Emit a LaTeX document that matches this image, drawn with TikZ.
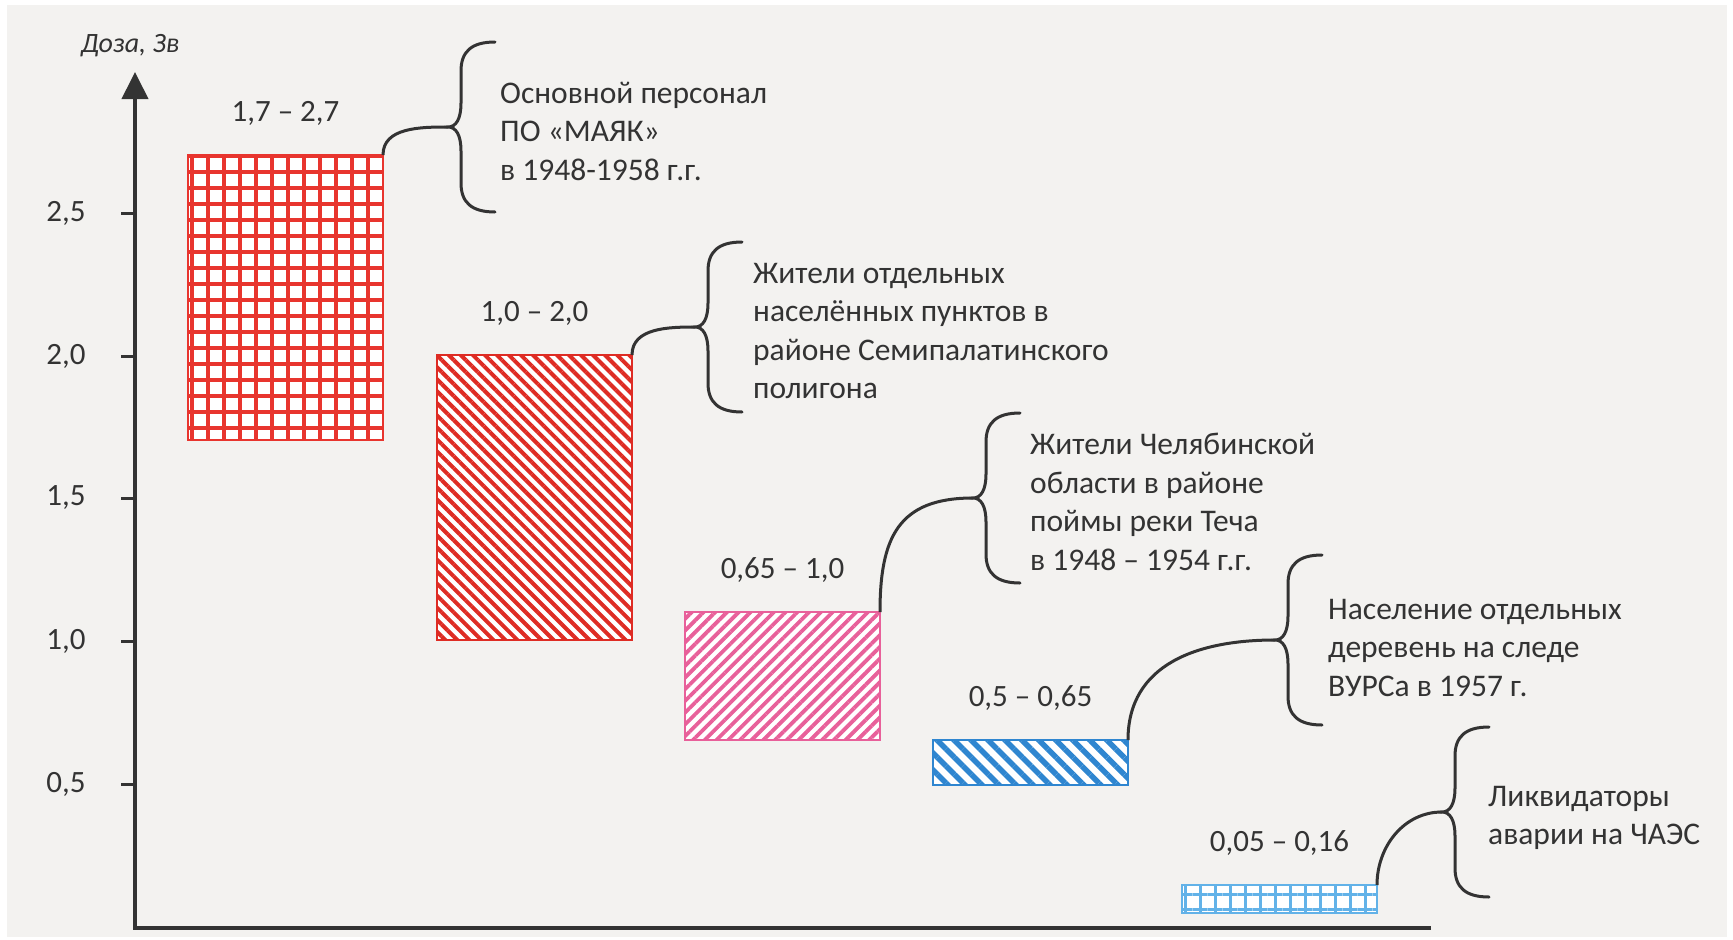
\documentclass[tikz,border=0pt]{standalone}
\usepackage{fontspec}
\setmainfont{Carlito}
\usetikzlibrary{patterns.meta,arrows.meta,positioning}
\definecolor{ink}{HTML}{333333}
\definecolor{paper}{HTML}{F3F2F0}
\definecolor{redA}{HTML}{E8352E}
\definecolor{redB}{HTML}{DE2C24}
\definecolor{pinkC}{HTML}{E8609A}
\definecolor{blueD}{HTML}{2F86D0}
\definecolor{blueE}{HTML}{62B2E8}

\begin{document}
\begin{tikzpicture}[x=1pt,y=-1pt]
\tikzstyle{bar}=[anchor=north west,inner sep=0pt,outer sep=0pt,minimum width=195pt,line width=1.5pt,preaction={fill=white}]
\tikzstyle{barA}=[bar,draw=redA,pattern={Hatch[angle=0,distance=16pt,line width=4.5pt]},pattern color=redA]
\tikzstyle{barB}=[bar,draw=redB,pattern={Lines[angle=-45,distance=8.5pt,line width=4pt]},pattern color=redB]
\tikzstyle{barC}=[bar,draw=pinkC,pattern={Lines[angle=45,distance=8.3pt,line width=3.8pt]},pattern color=pinkC]
\tikzstyle{barD}=[bar,draw=blueD,pattern={Lines[angle=-45,distance=12pt,line width=5.5pt]},pattern color=blueD]
\tikzstyle{barE}=[bar,draw=blueE,pattern={Hatch[angle=0,distance=15pt,line width=3pt]},pattern color=blueE]
\tikzstyle{vlabel}=[text=ink,inner sep=0pt,font=\fontsize{31}{36}\selectfont]
\tikzstyle{note}=[text=ink,inner sep=0pt,align=left,font=\fontsize{31.5}{38.5}\selectfont]
\tikzstyle{conn}=[draw=ink,line width=3pt]
\tikzstyle{axis}=[draw=ink,line width=4pt]
\tikzset{pics/curly/.style={code={
  \draw[conn,line cap=round] (47,-85) .. controls (23,-85) and (13,-75) .. (13,-56)
    -- (13,-24) .. controls (13,-8) and (8,0) .. (0,0)
    .. controls (8,0) and (13,8) .. (13,24) -- (13,56)
    .. controls (13,75) and (23,85) .. (47,85);
}}}

% frame
\useasboundingbox (0,0) rectangle (1733,940);
\fill[white] (0,0) rectangle (1733,940);
\fill[paper] (7,5) rectangle (1727,937);

% axes
\coordinate (O) at (135,928);
\coordinate (Ytop) at (135,72);
\coordinate (Xend) at (1431,928);
\draw[axis,line join=miter,-{Triangle[width=26pt,length=27pt]}] (Xend) -- (O) -- (Ytop);
\node[text=ink,inner sep=0pt,font=\itshape\fontsize{28}{32}\selectfont] (ylab) at (130,46) {Доза, Зв};
\foreach \y/\t in {213/{2,5},356/{2,0},498/{1,5},641/{1,0},784/{0,5}}{
  \draw[ink,line width=3pt] (121,\y) -- (135,\y);
  \node[vlabel] at (66,\y) {\t};
}

% bars
\node[barA,minimum height=285pt] (A) at (188,155) {};
\node[barB,minimum height=285pt] (B) at (437,355) {};
\node[barC,minimum height=128pt] (C) at (685,612) {};
\node[barD,minimum height=45pt] (D) at (933,740) {};
\node[barE,minimum height=28pt] (E) at (1182,885) {};

\node[vlabel] (vA) at ([yshift=42pt]A.north) {1,7 – 2,7};
\node[vlabel] (vB) at ([yshift=42pt]B.north) {1,0 – 2,0};
\node[vlabel] (vC) at ([yshift=42pt]C.north) {0,65 – 1,0};
\node[vlabel] (vD) at ([yshift=42pt]D.north) {0,5 – 0,65};
\node[vlabel] (vE) at ([yshift=42pt]E.north) {0,05 – 0,16};

% braces
\coordinate (tA) at ([shift={(65,-28)}]A.north east);
\coordinate (tB) at ([shift={(63,-28)}]B.north east);
\coordinate (tC) at ([shift={(93,-114)}]C.north east);
\coordinate (tD) at ([shift={(147,-100)}]D.north east);
\coordinate (tE) at ([shift={(65,-73)}]E.north east);
\foreach \t in {tA,tB,tC,tD,tE}{
  \pic at (\t) {curly};
}

\node[note,right=52pt of tA,yshift=-4pt] (nA) {Основной персонал\\ПО «МАЯК»\\в 1948-1958 г.г.};
\node[note,right=58pt of tB,yshift=-4pt] (nB) {Жители отдельных\\населённых пунктов в\\районе Семипалатинского\\полигона};
\node[note,right=57pt of tC,yshift=-4pt] (nC) {Жители Челябинской\\области в районе\\поймы реки Теча\\в 1948 – 1954 г.г.};
\node[note,right=53pt of tD,yshift=-8pt] (nD) {Население отдельных\\деревень на следе\\ВУРСа в 1957 г.};
\node[note,right=46pt of tE,yshift=-6pt] (nE) {Ликвидаторы\\аварии на ЧАЭС};

\path[conn]
 (A.north east) edge[out=90,in=180] (tA)
 (B.north east) edge[out=90,in=180] (tB)
 (C.north east) edge[out=90,in=180,looseness=1.3] (tC)
 (D.north east) edge[out=90,in=180,looseness=1.1] (tD)
 (E.north east) edge[out=90,in=180] (tE);
\end{tikzpicture}
\end{document}
